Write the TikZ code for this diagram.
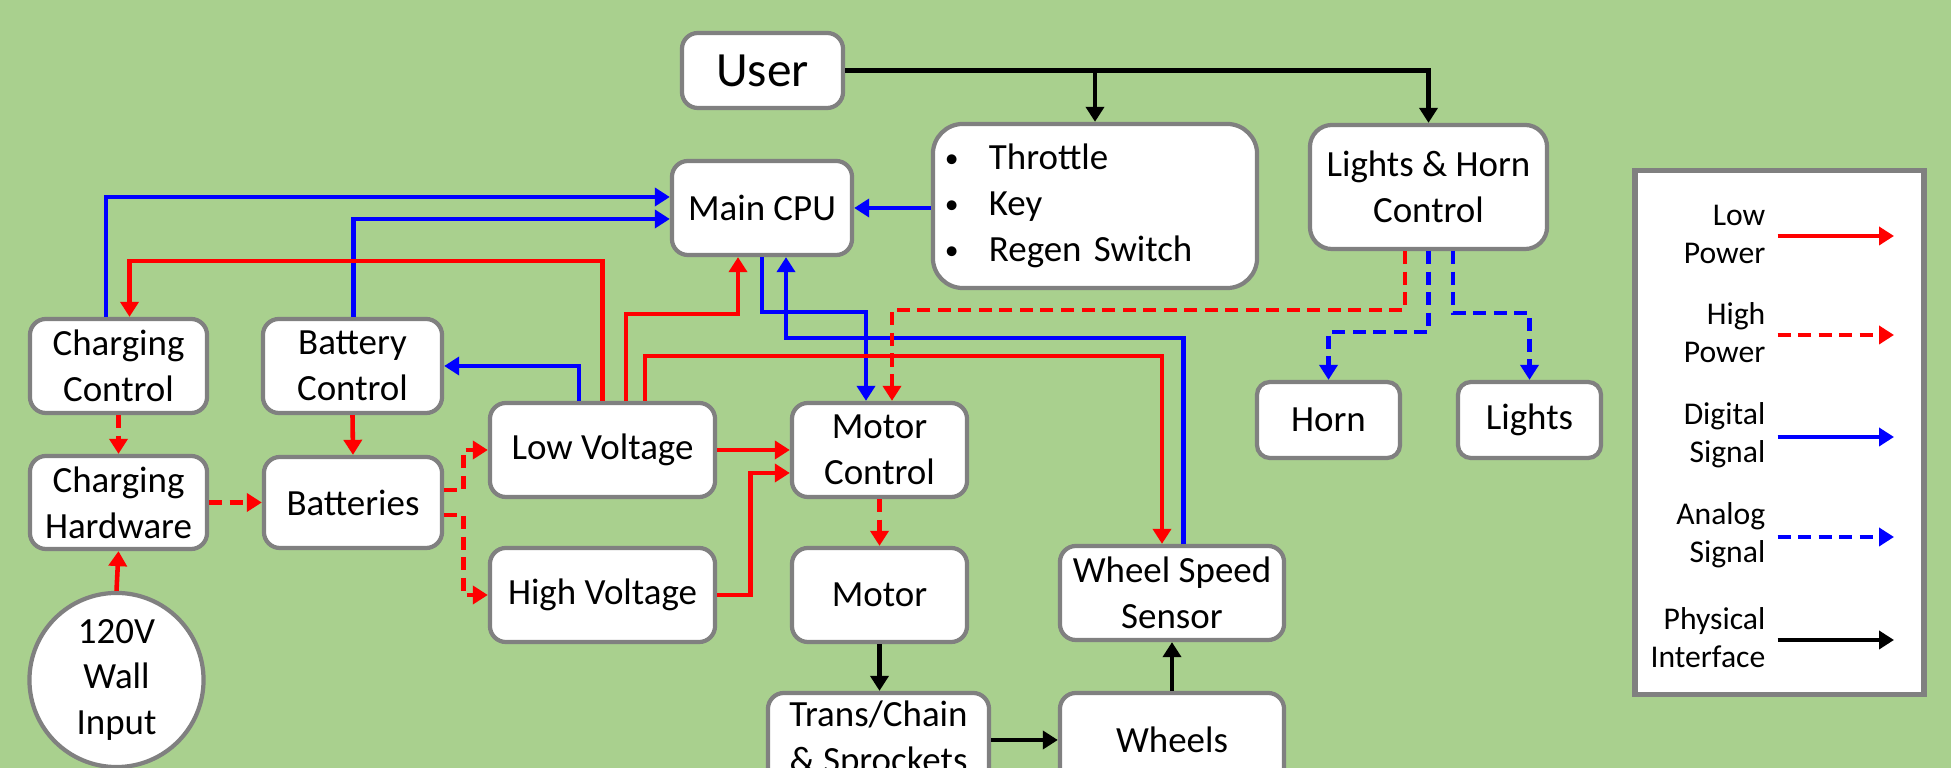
\documentclass[tikz,border=0pt]{standalone}
\usepackage{fontspec}
\usepackage{graphicx}
\setmainfont{Carlito}
\usetikzlibrary{arrows.meta,calc}
\definecolor{bg}{RGB}{169,208,142}
\definecolor{bordergray}{RGB}{128,128,128}
\definecolor{pred}{RGB}{255,0,0}
\definecolor{pblue}{RGB}{0,0,255}
\newcommand{\bul}{\makebox[0.46cm][l]{\hspace{0.02cm}\raisebox{0.02cm}{\scalebox{0.75}{\textbullet}}}}
\begin{document}
\begin{tikzpicture}[x=0.01cm,y=-0.01cm,
  box/.style={draw=bordergray, line width=1.2pt, fill=white, rounded corners=0.16cm, align=center, inner sep=0pt, font=\fontsize{10.5}{13}\selectfont},
  conn/.style={line width=1.3pt, -{Triangle[length=0.15cm,width=0.18cm]}},
  lowp/.style={conn, pred},
  highp/.style={conn, pred, dash pattern=on 0.13cm off 0.075cm},
  dig/.style={conn, pblue},
  ana/.style={conn, pblue, dash pattern=on 0.13cm off 0.075cm},
  phys/.style={conn, black},
  legtext/.style={anchor=east, align=right, inner sep=0pt, font=\fontsize{9}{10.8}\selectfont},
]
\useasboundingbox (0,0) rectangle (1951,768);
\clip (0,0) rectangle (1951,768);
\fill[bg] (0,0) rectangle (1951,768);

% nodes
\node[box, minimum width=1.61cm, minimum height=0.75cm, font=\fontsize{14}{16}\selectfont] (user) at (762.5,70.5) {User};
\node[box, minimum width=3.24cm, minimum height=1.64cm, rounded corners=0.3cm, align=left, inner xsep=0.1cm, text width=3.04cm] (thr) at (1095,206)
  {\bul Throttle\\\bul Key\\\bul Regen Switch};
\node[box, minimum width=1.80cm, minimum height=0.94cm] (cpu) at (762,208) {Main CPU};
\node[box, minimum width=2.37cm, minimum height=1.24cm, rounded corners=0.22cm] (lh) at (1428.5,187) {Lights \& Horn\\Control};
\node[box, minimum width=1.77cm, minimum height=0.94cm] (cc) at (118.5,366) {Charging\\Control};
\node[box, minimum width=1.79cm, minimum height=0.94cm] (bc) at (352.5,366) {Battery\\Control};
\node[box, minimum width=1.77cm, minimum height=0.93cm] (ch) at (118.5,502.5) {Charging\\Hardware};
\node[box, minimum width=1.78cm, minimum height=0.91cm] (bat) at (353,502.5) {Batteries};
\node[box, minimum width=2.25cm, minimum height=0.94cm] (lv) at (602.5,450) {Low Voltage};
\node[box, minimum width=2.25cm, minimum height=0.94cm] (hv) at (602.5,595) {High Voltage};
\node[box, minimum width=1.75cm, minimum height=0.94cm] (mc) at (879.5,450) {Motor\\Control};
\node[box, minimum width=1.75cm, minimum height=0.94cm] (mot) at (879.5,595) {Motor};
\node[box, minimum width=2.24cm, minimum height=0.94cm] (wss) at (1172,593) {Wheel Speed\\Sensor};
\node[box, minimum width=2.21cm, minimum height=0.94cm] (tc) at (878.5,740) {Trans/Chain\\\& Sprockets};
\node[box, minimum width=2.24cm, minimum height=0.94cm] (wh) at (1172,740) {Wheels};
\node[box, minimum width=1.43cm, minimum height=0.76cm, rounded corners=0.13cm] (horn) at (1328.5,420) {Horn};
\node[box, minimum width=1.43cm, minimum height=0.76cm, rounded corners=0.13cm] (lights) at (1529.5,420) {Lights};
\node[box, circle, sharp corners, minimum size=1.74cm] (wall) at (116.5,680) {120V\\Wall\\Input};

% legend
\node[draw=bordergray, line width=1.5pt, fill=white, minimum width=2.89cm, minimum height=5.23cm, inner sep=0pt] (leg) at (1779.5,432.5) {};
\node[legtext] (lt1) at (1766,234) {Low\\Power};
\node[legtext] (lt2) at (1766,333) {High\\Power};
\node[legtext] (lt3) at (1766,435) {Digital\\Signal};
\node[legtext] (lt4) at (1766,535) {Analog\\Signal};
\node[legtext] (lt5) at (1766,638) {Physical\\Interface};
\coordinate (la1) at (1777.5,236); \coordinate (lb1) at (1894,236);
\coordinate (la2) at (1777.5,335); \coordinate (lb2) at (1894,335);
\coordinate (la3) at (1777.5,437); \coordinate (lb3) at (1894,437);
\coordinate (la4) at (1777.5,537); \coordinate (lb4) at (1894,537);
\coordinate (la5) at (1777.5,640); \coordinate (lb5) at (1894,640);
\draw[lowp] (la1) -- (lb1);
\draw[highp] (la2) -- (lb2);
\draw[dig] (la3) -- (lb3);
\draw[ana] (la4) -- (lb4);
\draw[phys] (la5) -- (lb5);

% physical
\draw[phys] (user.east) -| (thr.north);
\draw[phys] (user.east) -| (lh.north);
\draw[phys] (mot.south) -- (mot.south |- tc.north);
\draw[phys] (tc.east) -- (wh.west);
\draw[phys] (wh.north) -- (wss.south);

% digital
\draw[dig] (thr.west |- cpu.east) -- (cpu.east);
\draw[dig] ($(cc.north)+(-12.5,0)$) |- ($(cpu.west)+(0,-11)$);
\draw[dig] ($(bc.north)+(1,0)$) |- ($(cpu.west)+(0,11)$);
\draw[dig] ($(lv.north)+(-23.5,0)$) |- (bc.east);
\draw[dig] (cpu.south) |- ($(mc.north)+(-13.5,-89)$) -- ($(mc.north)+(-13.5,0)$);
\draw[dig] ($(wss.north)+(11.5,0)$) |- ($(cpu.south)+(24,81)$) -- ($(cpu.south)+(24,0)$);

% low power
\draw[lowp] (lv.north) |- ($(cc.north)+(11,-56)$) -- ($(cc.north)+(11,0)$);
\draw[lowp] ($(lv.north)+(23.5,0)$) |- ($(cpu.south)+(-24,57)$) -- ($(cpu.south)+(-24,0)$);
\draw[lowp] ($(lv.north)+(42.5,0)$) |- ($(wss.north)+(-10,-188)$) -- ($(wss.north)+(-10,0)$);
\draw[lowp] (bc.south) -- (bat.north);
\draw[lowp] (wall.north) -- (ch.south);
\draw[lowp] (lv.east) -- (lv.east -| mc.west);
\draw[lowp] (hv.east) -| ($(mc.west)+(-39.5,23)$) -- ($(mc.west)+(0,23)$);

% high power
\draw[highp] (cc.south) -- (ch.north);
\draw[highp] (ch.east) -- (bat.west);
\draw[highp] ($(bat.east)+(0,-12.5)$) -| ($(lv.west)+(-24.5,0)$) -- (lv.west);
\draw[highp] ($(bat.east)+(0,12.5)$) -| ($(hv.west)+(-24.5,0)$) -- (hv.west);
\draw[highp] (mc.south) -- (mot.north);
\draw[highp] ($(lh.south)+(-23.5,0)$) |- ($(mc.north)+(12.5,-91)$) -- ($(mc.north)+(12.5,0)$);

% analog
\draw[ana] (lh.south) |- ($(horn.north)+(0,-48)$) -- (horn.north);
\draw[ana] ($(lh.south)+(24.5,0)$) |- ($(lights.north)+(0,-67)$) -- (lights.north);
\end{tikzpicture}
\end{document}
